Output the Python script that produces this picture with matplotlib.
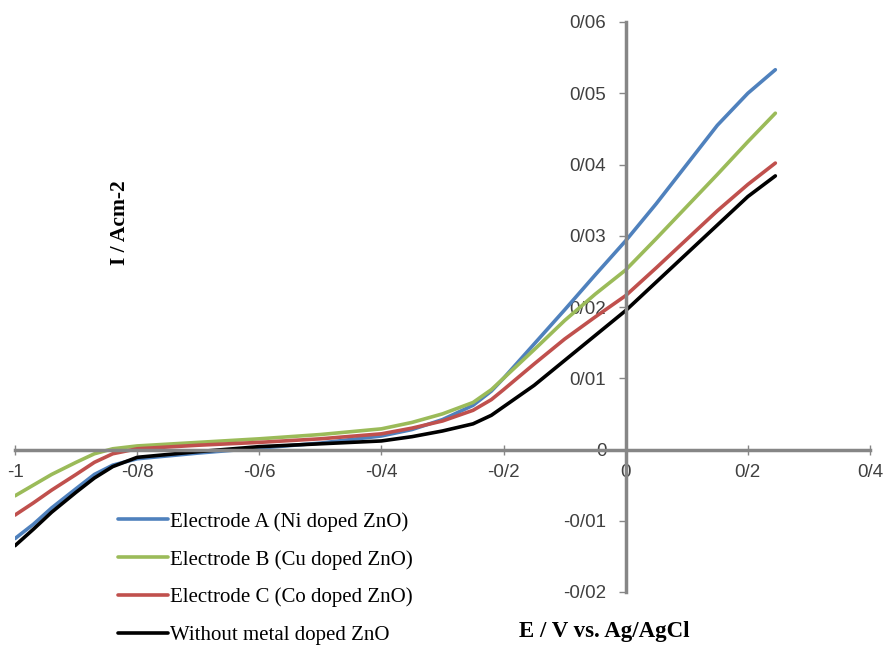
import numpy as np
import matplotlib
matplotlib.use("Agg")
import matplotlib.pyplot as plt
from matplotlib.ticker import FixedLocator, FixedFormatter

# Potential (V vs. Ag/AgCl)
potential = [-1.0, -0.97, -0.94, -0.9, -0.87, -0.84, -0.8, -0.7, -0.6, -0.5,
             -0.4, -0.35, -0.3, -0.25, -0.22, -0.2, -0.15, -0.1, -0.05, 0.0,
             0.05, 0.1, 0.15, 0.2, 0.245]

# current density (A cm-2)
electrode_a = [-0.0125, -0.0105, -0.0082, -0.0055, -0.0035, -0.0022, -0.0013, -0.0005, 0.0002, 0.0009,
               0.0019, 0.0028, 0.0042, 0.0062, 0.0082, 0.0100, 0.0148, 0.0196, 0.0245, 0.0293,
               0.0345, 0.0400, 0.0455, 0.0500, 0.0533]
electrode_b = [-0.0065, -0.0050, -0.0035, -0.0018, -0.0006, 0.0001, 0.0005, 0.0010, 0.0015, 0.0021,
               0.0029, 0.0038, 0.0050, 0.0066, 0.0084, 0.0100, 0.0140, 0.0181, 0.0218, 0.0252,
               0.0296, 0.0341, 0.0386, 0.0432, 0.0472]
electrode_c = [-0.0092, -0.0075, -0.0057, -0.0035, -0.0018, -0.0006, 0.0001, 0.0006, 0.0010, 0.0015,
               0.0022, 0.0030, 0.0040, 0.0055, 0.0070, 0.0084, 0.0120, 0.0155, 0.0186, 0.0216,
               0.0255, 0.0295, 0.0335, 0.0372, 0.0402]
undoped = [-0.0135, -0.0112, -0.0088, -0.0060, -0.0040, -0.0024, -0.0011, -0.0003, 0.0004, 0.0008,
           0.0012, 0.0018, 0.0026, 0.0036, 0.0048, 0.0060, 0.0090, 0.0125, 0.0160, 0.0195,
           0.0235, 0.0275, 0.0315, 0.0355, 0.0384]

series_labels = ["Electrode A (Ni doped ZnO)", "Electrode B (Cu doped ZnO)",
                 "Electrode C (Co doped ZnO)", "Without metal doped ZnO"]

x_ticks = [-1.0, -0.8, -0.6, -0.4, -0.2, 0.0, 0.2, 0.4]
x_tick_labels = ["-1", "-0/8", "-0/6", "-0/4", "-0/2", "0", "0/2", "0/4"]
y_ticks = [-0.02, -0.01, 0.0, 0.01, 0.02, 0.03, 0.04, 0.05, 0.06]
y_tick_labels = ["-0/02", "-0/01", "0", "0/01", "0/02", "0/03", "0/04", "0/05", "0/06"]

colors = ["#4F81BD", "#9BBB59", "#C0504D", "#000000"]
axis_grey = "#868686"

fig = plt.figure(figsize=(8.87, 6.45), dpi=100)
ax = fig.add_axes([15/887, 53/645, 855/887, 570/645])

for values, label, cl in zip([electrode_a, electrode_b, electrode_c, undoped], series_labels, colors):
    ax.plot(potential, values, color=cl, lw=2.6, label=label, solid_capstyle="round")

ax.set_xlim(-1.0, 0.4)
ax.set_ylim(-0.02, 0.06)

ax.spines["left"].set_position(("data", 0))
ax.spines["bottom"].set_position(("data", 0))
ax.spines["top"].set_visible(False)
ax.spines["right"].set_visible(False)
for side in ["left", "bottom"]:
    ax.spines[side].set_color(axis_grey)
    ax.spines[side].set_linewidth(2.5)

ax.xaxis.set_major_locator(FixedLocator(x_ticks))
ax.xaxis.set_major_formatter(FixedFormatter(x_tick_labels))
ax.yaxis.set_major_locator(FixedLocator(y_ticks))
ax.yaxis.set_major_formatter(FixedFormatter(y_tick_labels))
ax.tick_params(axis="x", direction="inout", length=7, width=1, color=axis_grey,
               labelsize=13.5, labelcolor="#404040", pad=7)
ax.tick_params(axis="y", direction="out", length=5, width=1, color=axis_grey,
               labelsize=13.5, labelcolor="#404040", pad=9)
for t in ax.get_xticklabels() + ax.get_yticklabels():
    t.set_family("Liberation Sans")

fig.text(120/887, 1 - 223/645, "I / Acm-2", rotation=90, ha="center", va="center",
         family="Liberation Serif", fontweight="bold", fontsize=15.5)
fig.text(604/887, 1 - 632/645, "E / V vs. Ag/AgCl", ha="center", va="center",
         family="Liberation Serif", fontweight="bold", fontsize=16.5)

ax.legend(loc="upper left", bbox_to_anchor=(118/887, 1 - 512/645), bbox_transform=fig.transFigure,
          frameon=False, prop={"family": "Liberation Serif", "size": 15},
          handlelength=2.4, handletextpad=0.1, labelspacing=0.87, borderpad=0, borderaxespad=0)

fig.savefig("out.png", dpi=100)
